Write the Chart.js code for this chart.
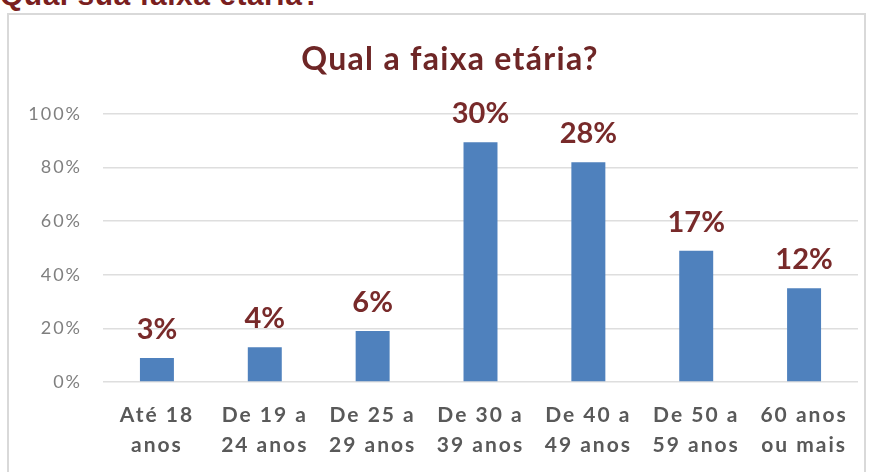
<!DOCTYPE html>
<html lang="pt">
<head>
    <meta charset="UTF-8">
    <title>Qual a faixa etária?</title>
    <style>
        * { box-sizing: border-box; margin: 0; padding: 0; }
        body { background: #fff; width: 872px; height: 472px; overflow: hidden; position: relative; }
        .top-label {
            position: absolute;
            left: 0;
            top: -22px;
            font-family: "Liberation Sans", Arial, sans-serif;
            font-weight: bold;
            font-size: 30px;
            letter-spacing: 0.5px;
            color: #7a1f1f;
            white-space: nowrap;
        }
        .frame {
            position: absolute;
            left: 7px;
            top: 13px;
            width: 859px;
            height: 480px;
            border: 2px solid #d9d9d9;
        }
        #chart { position: absolute; left: 0; top: 0; }
    </style>
</head>
<body>
<div class="top-label">Qual sua faixa etária?</div>
<div class="frame"></div>
<canvas id="chart" width="872" height="472"></canvas>

<script src="https://cdn.jsdelivr.net/npm/chart.js"></script>
<script>
    const chartTitle = "Qual a faixa etária?";
    // categorias (duas linhas cada)
    const categories = [
        ["Até 18", "anos"],
        ["De 19 a", "24 anos"],
        ["De 25 a", "29 anos"],
        ["De 30 a", "39 anos"],
        ["De 40 a", "49 anos"],
        ["De 50 a", "59 anos"],
        ["60 anos", "ou mais"]
    ];
    // altura das barras lida no eixo (%)
    const barValues = [9, 13, 19, 89.5, 82, 49, 35];
    // rótulos mostrados acima das barras
    const valueLabels = ["3%", "4%", "6%", "30%", "28%", "17%", "12%"];
    const yTicks = [0, 20, 40, 60, 80, 100];

    // o texto do original é mais largo: espaçamento entre letras
    const spacing = {
        id: "spacing",
        beforeDraw(chart) { chart.ctx.letterSpacing = "2px"; },
        afterDraw(chart) { chart.ctx.letterSpacing = "0px"; }
    };

    // título desenhado à mão (fica um pouco à direita do centro)
    const titleText = {
        id: "titleText",
        afterDraw(chart) {
            const ctx = chart.ctx;
            ctx.save();
            ctx.letterSpacing = "1.3px";
            ctx.font = "bold 32px Lato, sans-serif";
            ctx.fillStyle = "#6e2626";
            ctx.textAlign = "center";
            ctx.textBaseline = "alphabetic";
            ctx.fillText(chartTitle, 450, 70);
            ctx.restore();
        }
    };

    // plugin simples para escrever os rótulos
    const barLabels = {
        id: "barLabels",
        afterDatasetsDraw(chart) {
            const ctx = chart.ctx;
            const meta = chart.getDatasetMeta(0);
            ctx.save();
            ctx.letterSpacing = "0px";
            ctx.font = "bold 29px Lato, sans-serif";
            ctx.fillStyle = "#782a2a";
            ctx.textAlign = "center";
            ctx.textBaseline = "bottom";
            meta.data.forEach((bar, i) => {
                ctx.fillText(valueLabels[i], bar.x, bar.y - 14);
            });
            ctx.restore();
        }
    };

    new Chart(document.getElementById("chart").getContext("2d"), {
        type: "bar",
        data: {
            labels: categories,
            datasets: [{
                data: barValues,
                backgroundColor: "#4f81bd",
                borderWidth: 0,
                categoryPercentage: 1,
                barPercentage: 0.315
            }]
        },
        options: {
            responsive: false,
            animation: false,
            layout: { padding: { left: 0, right: 14, top: 114, bottom: 0 } },
            plugins: {
                legend: { display: false },
                tooltip: { enabled: false },
                title: { display: false }
            },
            scales: {
                x: {
                    grid: { display: false, drawTicks: false },
                    border: { display: false },
                    ticks: {
                        color: "#595959",
                        font: { family: "Lato", size: 21, weight: "bold", lineHeight: 1.45 },
                        padding: 18,
                        maxRotation: 0,
                        autoSkip: false
                    },
                    afterFit(scale) { scale.height = 90; }
                },
                y: {
                    min: 0,
                    max: 100,
                    afterBuildTicks(scale) { scale.ticks = yTicks.map(v => ({ value: v })); },
                    grid: { color: "#dedede", lineWidth: 1.5, drawTicks: false },
                    border: { display: false },
                    ticks: {
                        color: "#7f7f7f",
                        font: { family: "Lato", size: 18 },
                        padding: 21,
                        callback: v => v + "%"
                    },
                    afterFit(scale) { scale.width = 103; }
                }
            }
        },
        plugins: [spacing, titleText, barLabels]
    });
</script>
</body>
</html>
